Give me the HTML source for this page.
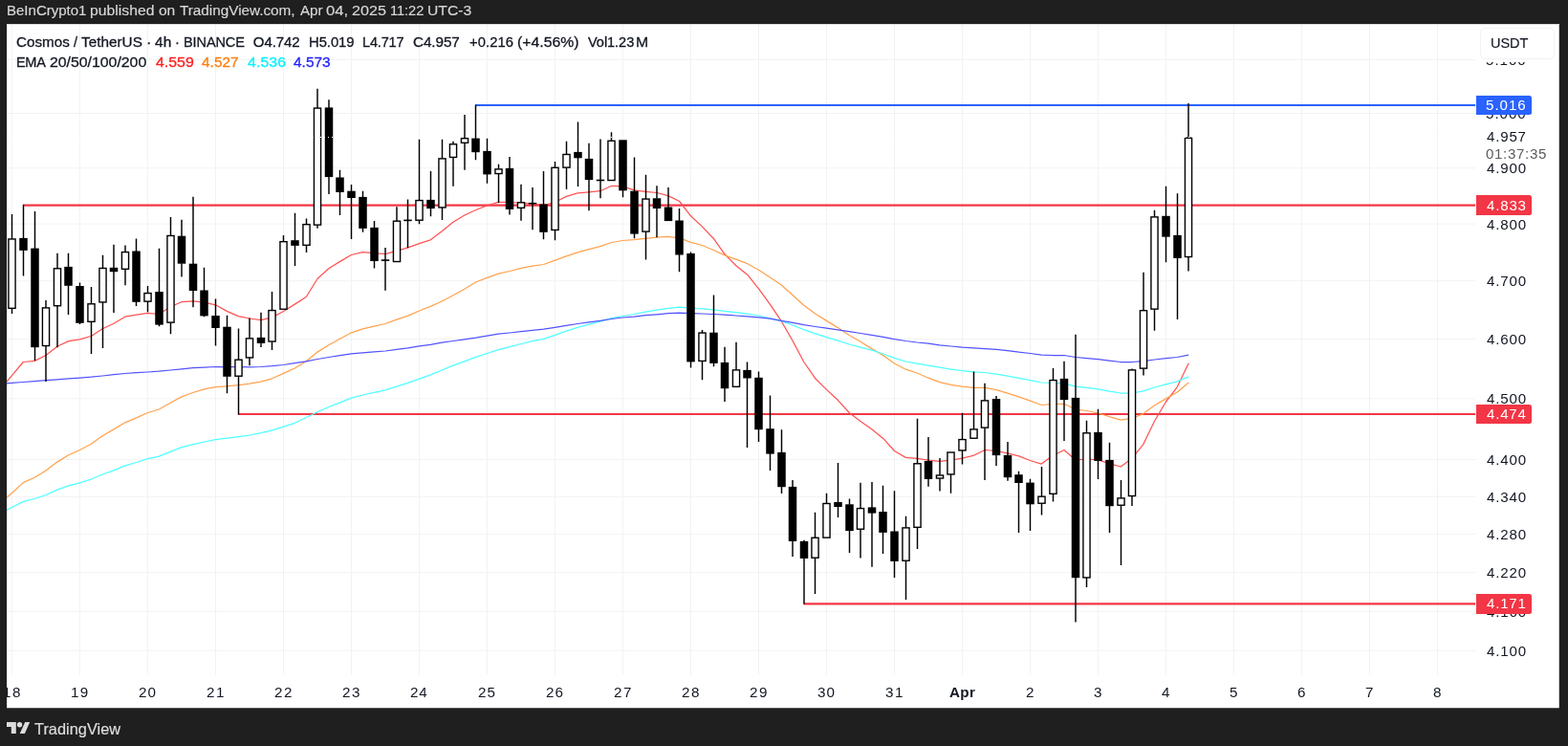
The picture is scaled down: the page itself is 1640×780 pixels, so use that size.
<!DOCTYPE html>
<html lang="en"><head><meta charset="utf-8"><title>Cosmos / TetherUS · 4h · BINANCE — TradingView</title>
<style>
html,body{margin:0;padding:0;background:#1f1f1f;}
body{width:1640px;height:780px;background:#1f1f1f;overflow:hidden;position:relative;font-family:"Liberation Sans",sans-serif;}
.chart{position:absolute;left:7.0px;top:25.0px;width:1624.0px;height:716.0px;overflow:hidden;}
.bg{fill:#fff;}
.chart>*{position:absolute;}
.plot{position:absolute;left:-7.0px;top:-25.0px;}
.grid{fill:none;stroke:#f1f3f3;stroke-width:1;}
.lvl{stroke-width:2.1;}
.ema{fill:none;stroke-width:1.25;stroke-linejoin:round;stroke-linecap:butt;}
.wick{fill:none;stroke:#000;stroke-width:1.45;}
.dn rect{fill:#000;}
.up rect{fill:#fff;stroke:#000;stroke-width:1.4;}
.last{fill:none;stroke:#fff;stroke-width:1;stroke-dasharray:1 3;}
.t{position:absolute;white-space:pre;line-height:1;transform-origin:0 0;}
.hdr{position:absolute;left:0;top:0;width:1640px;height:25.0px;color:#d8d8d8;font-size:15.5px;-webkit-text-stroke-width:0.15px;}
.legend{left:0;top:0;width:700px;height:60px;color:#131722;font-size:15px;-webkit-text-stroke-width:0.3px;}
.legend .l2 span+span{-webkit-text-stroke-width:0.3px;}
.paxis{left:1537.0px;top:0;width:86.75px;height:680.5px;color:#131722;font-size:14.5px;overflow:hidden;}
.taxis{left:0;top:680.5px;width:1624.0px;height:34.75px;color:#131722;font-size:14.5px;overflow:hidden;}
.tag{position:absolute;left:0.25px;width:57.25px;height:20.5px;border-radius:0 2.5px 2.5px 0;background:#f23645;color:#fff;}
.tag.blue{background:#2962ff;}
.cur{position:absolute;left:0;top:107.0px;width:86px;height:38px;background:#fff;}
.cd{color:#5c5c5c;}
.unitbg{position:absolute;left:0;top:1px;width:86px;height:39.4px;background:#fff;}
.unit{position:absolute;left:4px;top:4.2px;width:78px;height:32.7px;border:1px solid #f1f2f4;border-radius:5px;background:#fff;box-sizing:border-box;-webkit-text-stroke-width:0.15px;}
.topline{left:0;top:0;width:100%;height:1px;background:#dcdcdc;}
.foot{position:absolute;left:0;top:741.0px;width:1640px;height:39.0px;color:#dcdcdc;font-size:17px;-webkit-text-stroke-width:0.2px;}
.foot svg{position:absolute;left:0;top:0;}
</style></head><body>
<div class="hdr"><span class="t" style="left:6.76px;top:2.59px;letter-spacing:0.002px;transform:scaleX(0.9686);">BeInCrypto1</span> <span class="t" style="left:94.40px;top:2.59px;letter-spacing:0.008px;transform:scaleX(1.0149);">published</span> <span class="t" style="left:166.11px;top:2.59px;letter-spacing:-0.125px;transform:scaleX(1.0115);">on</span> <span class="t" style="left:188.08px;top:2.59px;letter-spacing:-0.026px;transform:scaleX(0.9888);">TradingView.com,</span> <span class="t" style="left:313.60px;top:2.59px;letter-spacing:-0.052px;transform:scaleX(0.9804);">Apr</span> <span class="t" style="left:341.11px;top:2.59px;letter-spacing:-0.008px;transform:scaleX(1.0703);">04,</span> <span class="t" style="left:367.96px;top:2.59px;letter-spacing:-0.002px;transform:scaleX(1.0432);">2025</span> <span class="t" style="left:407.70px;top:2.59px;letter-spacing:-0.067px;transform:scaleX(0.9463);">11:22</span> <span class="t" style="left:447.47px;top:2.59px;letter-spacing:0.032px;transform:scaleX(1.0098);">UTC-3</span></div>
<div class="chart">
<svg class="plot" width="1640" height="780" viewBox="0 0 1640 780"><rect class="bg" x="7.1" y="25.0" width="1623.65" height="715.25"/>
<path class="grid" d="M12.50 25.0V705.5M83.50 25.0V705.5M154.50 25.0V705.5M225.50 25.0V705.5M296.50 25.0V705.5M367.50 25.0V705.5M438.50 25.0V705.5M509.50 25.0V705.5M580.50 25.0V705.5M651.50 25.0V705.5M722.50 25.0V705.5M793.50 25.0V705.5M864.50 25.0V705.5M935.50 25.0V705.5M1006.50 25.0V705.5M1077.50 25.0V705.5M1148.50 25.0V705.5M1219.50 25.0V705.5M1290.50 25.0V705.5M1361.50 25.0V705.5M1432.50 25.0V705.5M1503.50 25.0V705.5M7.0 62.48H1543.5M7.0 118.54H1543.5M7.0 175.73H1543.5M7.0 234.11H1543.5M7.0 293.71H1543.5M7.0 354.59H1543.5M7.0 416.81H1543.5M7.0 480.43H1543.5M7.0 519.29H1543.5M7.0 558.70H1543.5M7.0 598.67H1543.5M7.0 639.21H1543.5M7.0 680.34H1543.5"/>
<line class="lvl" x1="497.00" y1="110.00" x2="1543.2" y2="110.00" stroke="#2962ff"/>
<line class="lvl" x1="24.00" y1="214.60" x2="1543.2" y2="214.60" stroke="#f23645"/>
<line class="lvl" x1="249.00" y1="433.00" x2="1543.2" y2="433.00" stroke="#f23645"/>
<line class="lvl" x1="840.50" y1="631.40" x2="1543.2" y2="631.40" stroke="#f23645"/>
<path class="ema e20" d="M7.0 399.2 L12.5 392.6 L24.3 378.5 L36.2 377.4 L48.0 371.5 L59.8 362.3 L71.7 356.6 L83.5 354.9 L95.3 351.5 L107.2 343.8 L119.0 338.2 L130.8 331.2 L142.7 329.2 L154.5 327.4 L166.3 328.5 L178.2 320.8 L190.0 315.7 L201.8 314.9 L213.7 316.2 L225.5 318.8 L237.3 325.4 L249.2 330.6 L261.0 333.0 L272.8 334.7 L284.7 331.9 L296.5 325.5 L308.3 318.1 L320.2 310.5 L332.0 291.5 L343.8 280.8 L355.7 273.4 L367.5 266.5 L379.3 263.7 L391.2 264.6 L403.0 265.7 L414.8 262.3 L426.7 258.9 L438.5 254.6 L450.3 250.8 L462.2 241.8 L474.0 232.3 L485.8 225.0 L497.7 219.5 L509.5 214.8 L521.3 211.4 L533.2 211.5 L545.0 212.0 L556.8 213.1 L568.7 214.6 L580.5 211.5 L592.3 205.4 L604.2 201.8 L616.0 200.8 L627.8 199.7 L639.7 194.3 L651.5 194.9 L663.3 198.9 L675.2 200.3 L687.0 201.5 L698.8 204.6 L710.7 210.5 L722.5 225.8 L734.3 236.9 L746.2 249.2 L758.0 265.8 L769.8 277.7 L781.7 287.2 L793.5 301.8 L805.3 318.2 L817.2 335.7 L829.0 356.2 L840.8 378.5 L852.7 395.7 L864.5 407.4 L876.3 418.3 L888.2 431.5 L900.0 440.4 L911.8 448.8 L923.7 458.4 L935.5 471.5 L947.3 478.4 L959.2 479.3 L971.0 481.2 L982.8 482.3 L994.7 481.2 L1006.5 479.2 L1018.3 476.2 L1030.2 470.5 L1042.0 471.5 L1053.8 473.8 L1065.7 476.9 L1077.5 481.5 L1089.3 485.1 L1101.2 476.2 L1113.0 470.5 L1124.8 480.8 L1136.7 480.0 L1148.5 480.8 L1160.3 484.6 L1172.2 488.0 L1184.0 479.2 L1195.8 464.6 L1207.7 440.0 L1219.5 420.0 L1231.3 404.6 L1243.2 379.7" stroke="#ff5252"/>
<path class="ema e50" d="M7.0 520.4 L12.5 515.5 L24.3 504.6 L36.2 499.2 L48.0 492.0 L59.8 483.1 L71.7 475.7 L83.5 470.5 L95.3 464.3 L107.2 455.7 L119.0 448.9 L130.8 441.8 L142.7 436.9 L154.5 431.5 L166.3 428.0 L178.2 421.2 L190.0 414.9 L201.8 410.5 L213.7 406.9 L225.5 404.6 L237.3 403.8 L249.2 402.7 L261.0 401.2 L272.8 399.2 L284.7 395.8 L296.5 390.4 L308.3 385.0 L320.2 377.8 L332.0 368.1 L343.8 360.8 L355.7 354.2 L367.5 347.8 L379.3 343.8 L391.2 341.2 L403.0 338.5 L414.8 334.2 L426.7 330.1 L438.5 325.0 L450.3 320.4 L462.2 315.0 L474.0 308.8 L485.8 302.2 L497.7 295.0 L509.5 290.4 L521.3 286.1 L533.2 283.5 L545.0 280.4 L556.8 278.1 L568.7 276.5 L580.5 272.2 L592.3 267.8 L604.2 263.8 L616.0 260.7 L627.8 257.6 L639.7 253.5 L651.5 251.5 L663.3 250.7 L675.2 249.3 L687.0 248.1 L698.8 247.3 L710.7 248.8 L722.5 253.3 L734.3 256.5 L746.2 261.5 L758.0 266.9 L769.8 271.2 L781.7 275.7 L793.5 282.3 L805.3 290.0 L817.2 298.0 L829.0 308.5 L840.8 319.2 L852.7 328.0 L864.5 335.4 L876.3 342.6 L888.2 350.5 L900.0 357.2 L911.8 364.6 L923.7 371.5 L935.5 380.0 L947.3 386.2 L959.2 390.0 L971.0 395.2 L982.8 399.7 L994.7 402.3 L1006.5 404.2 L1018.3 405.4 L1030.2 405.4 L1042.0 407.7 L1053.8 411.1 L1065.7 414.9 L1077.5 419.2 L1089.3 423.5 L1101.2 422.3 L1113.0 422.3 L1124.8 428.0 L1136.7 429.5 L1148.5 432.0 L1160.3 435.7 L1172.2 439.2 L1184.0 437.4 L1195.8 432.6 L1207.7 423.8 L1219.5 416.9 L1231.3 410.0 L1243.2 400.0" stroke="#ffa24d"/>
<path class="ema e100" d="M7.0 533.3 L12.5 530.5 L24.3 524.4 L36.2 521.5 L48.0 517.5 L59.8 512.1 L71.7 507.9 L83.5 504.8 L95.3 501.0 L107.2 496.0 L119.0 491.8 L130.8 486.9 L142.7 483.5 L154.5 479.7 L166.3 477.2 L178.2 472.3 L190.0 467.7 L201.8 464.6 L213.7 462.0 L225.5 459.7 L237.3 458.2 L249.2 456.7 L261.0 455.0 L272.8 452.7 L284.7 449.8 L296.5 446.2 L308.3 442.3 L320.2 436.5 L332.0 430.8 L343.8 425.5 L355.7 420.8 L367.5 416.2 L379.3 413.0 L391.2 410.4 L403.0 407.8 L414.8 404.2 L426.7 400.4 L438.5 396.2 L450.3 391.9 L462.2 387.0 L474.0 382.2 L485.8 377.8 L497.7 373.4 L509.5 369.5 L521.3 365.7 L533.2 362.6 L545.0 359.5 L556.8 356.6 L568.7 354.3 L580.5 350.3 L592.3 346.2 L604.2 342.3 L616.0 339.2 L627.8 336.2 L639.7 332.6 L651.5 330.5 L663.3 328.5 L675.2 326.2 L687.0 324.2 L698.8 322.3 L710.7 321.2 L722.5 322.2 L734.3 322.8 L746.2 323.8 L758.0 325.4 L769.8 326.6 L781.7 328.2 L793.5 330.0 L805.3 332.8 L817.2 335.7 L829.0 340.0 L840.8 344.6 L852.7 348.8 L864.5 352.6 L876.3 356.2 L888.2 360.0 L900.0 363.1 L911.8 366.2 L923.7 370.0 L935.5 374.3 L947.3 378.0 L959.2 380.2 L971.0 382.2 L982.8 384.2 L994.7 386.2 L1006.5 387.7 L1018.3 388.9 L1030.2 389.5 L1042.0 391.1 L1053.8 393.1 L1065.7 395.4 L1077.5 397.7 L1089.3 400.0 L1101.2 400.3 L1113.0 400.8 L1124.8 404.2 L1136.7 405.4 L1148.5 406.9 L1160.3 409.2 L1172.2 411.0 L1184.0 411.0 L1195.8 408.9 L1207.7 405.0 L1219.5 401.8 L1231.3 398.8 L1243.2 393.9" stroke="#4dffff"/>
<path class="ema e200" d="M7.0 400.8 L12.5 400.4 L24.3 399.5 L36.2 398.6 L48.0 397.7 L59.8 396.8 L71.7 395.9 L83.5 395.1 L95.3 394.2 L107.2 393.0 L119.0 391.7 L130.8 390.5 L142.7 389.7 L154.5 389.0 L166.3 388.2 L178.2 387.0 L190.0 385.8 L201.8 384.6 L213.7 384.1 L225.5 383.5 L237.3 383.6 L249.2 383.7 L261.0 383.8 L272.8 383.5 L284.7 382.7 L296.5 381.5 L308.3 379.6 L320.2 377.8 L332.0 375.5 L343.8 373.5 L355.7 371.6 L367.5 369.9 L379.3 368.8 L391.2 367.8 L403.0 367.0 L414.8 365.3 L426.7 363.8 L438.5 361.9 L450.3 360.4 L462.2 358.1 L474.0 356.5 L485.8 354.8 L497.7 353.1 L509.5 351.1 L521.3 349.2 L533.2 348.0 L545.0 346.6 L556.8 345.4 L568.7 344.2 L580.5 342.3 L592.3 340.3 L604.2 338.5 L616.0 336.9 L627.8 335.4 L639.7 333.5 L651.5 332.0 L663.3 331.1 L675.2 329.7 L687.0 328.8 L698.8 327.7 L710.7 327.2 L722.5 327.7 L734.3 328.0 L746.2 328.5 L758.0 329.2 L769.8 330.0 L781.7 330.8 L793.5 331.8 L805.3 333.1 L817.2 335.4 L829.0 337.4 L840.8 339.7 L852.7 341.5 L864.5 343.1 L876.3 344.9 L888.2 346.6 L900.0 348.5 L911.8 350.3 L923.7 352.3 L935.5 354.6 L947.3 356.5 L959.2 358.0 L971.0 359.2 L982.8 360.8 L994.7 362.0 L1006.5 363.1 L1018.3 363.8 L1030.2 364.6 L1042.0 365.4 L1053.8 366.6 L1065.7 368.2 L1077.5 369.5 L1089.3 371.1 L1101.2 371.5 L1113.0 371.5 L1124.8 373.5 L1136.7 374.6 L1148.5 375.7 L1160.3 377.2 L1172.2 378.5 L1184.0 378.5 L1195.8 377.7 L1207.7 376.0 L1219.5 374.6 L1231.3 373.5 L1243.2 371.2" stroke="#5252ff"/>
<path class="wick" d="M12.50 223.9V249.8M12.50 322.5V328.1M24.50 213.9V249.4M24.50 261.4V288.5M36.50 220.9V260.1M36.50 362.7V376.9M48.00 313.9V321.7M48.00 361.7V398.9M60.00 264.7V280.6M60.00 319.9V363.2M71.50 264.7V279.4M71.50 298.3V328.9M83.50 295.5V299.5M83.50 337.3V338.9M95.50 300.1V317.6M95.50 336.5V370.1M107.50 266.7V280.3M107.50 316.1V363.9M119.00 255.8V280.3M119.00 283.7V327.0M131.00 256.5V263.4M131.00 281.5V298.2M142.50 249.6V263.0M142.50 315.3V320.1M154.50 298.9V306.4M154.50 315.3V326.2M166.50 259.7V305.5M166.50 339.1V341.2M178.50 227.0V246.3M178.50 337.3V349.2M190.00 229.7V247.2M190.00 275.2V289.6M202.00 205.7V276.2M202.00 303.5V321.2M213.50 279.7V304.0M213.50 329.9V331.2M225.50 312.5V330.5M225.50 342.5V361.5M237.50 329.7V342.2M237.50 393.3V411.2M249.50 343.5V376.0M249.50 393.4V433.6M261.00 332.4V353.7M261.00 374.1V382.2M273.00 326.7V353.4M273.00 358.4V363.1M284.50 305.1V324.4M284.50 357.2V365.9M296.50 245.9V252.5M308.50 222.8V251.7M308.50 256.4V278.1M320.50 228.5V234.5M320.50 256.5V263.9M332.00 92.7V112.9M332.00 235.3V238.8M344.00 104.2V112.9M344.00 184.6V202.9M355.50 177.7V186.0M355.50 200.5V224.9M367.50 192.9V200.2M367.50 206.5V250.0M379.50 199.7V206.4M379.50 238.4V242.7M391.50 230.9V238.4M391.50 272.5V280.4M403.00 258.9V272.1M403.00 272.1V303.8M415.00 216.2V231.0M426.50 208.6V230.4M426.50 230.4V259.2M438.50 145.7V209.4M438.50 230.4V234.2M450.50 178.9V209.4M450.50 217.6V226.2M462.50 145.7V165.7M462.50 217.1V230.0M474.00 147.7V150.6M474.00 164.6V194.8M486.00 119.9V144.5M486.00 149.5V177.8M497.50 109.7V145.1M497.50 158.7V167.2M509.50 144.8V158.4M509.50 181.9V191.8M521.50 171.7V176.7M521.50 181.7V211.9M533.00 163.9V176.4M533.00 218.4V224.5M545.00 192.8V211.6M545.00 217.5V230.8M557.00 195.9V212.5M557.00 213.0V240.2M568.50 178.9V214.0M568.50 242.3V250.2M580.50 168.9V175.1M580.50 240.6V251.2M592.50 147.7V161.3M592.50 175.3V198.0M604.50 127.4V159.4M604.50 164.8V194.9M616.00 149.7V166.4M616.00 187.6V220.2M628.00 145.5V188.5M628.00 188.5V207.2M639.50 138.2V147.1M651.50 198.8V206.2M663.50 164.6V200.2M663.50 244.1V249.2M675.50 182.8V207.9M675.50 242.3V271.6M687.00 194.3V207.8M687.00 217.5V248.2M699.00 195.9V217.0M710.50 218.0V231.0M710.50 266.0V284.2M722.50 263.6V265.5M722.50 377.9V384.6M734.50 345.1V347.9M734.50 377.6V397.2M746.50 308.6V348.2M746.50 379.4V383.2M758.00 362.8V379.4M758.00 405.7V420.0M770.00 357.7V386.7M781.50 378.6V387.4M781.50 395.0V468.0M793.50 388.5V395.3M793.50 448.7V462.0M805.50 413.6V448.7M805.50 474.1V492.0M817.50 449.3V473.4M817.50 508.7V515.9M829.00 501.9V509.4M829.00 565.4V582.0M841.00 564.7V566.4M841.00 583.4V631.6M852.50 535.8V562.1M852.50 583.4V621.1M864.50 515.8V526.3M876.50 483.9V525.5M876.50 529.5V541.1M888.50 521.6V527.8M888.50 554.6V578.1M900.00 504.7V531.4M900.00 553.4V583.4M912.00 503.9V530.9M912.00 536.1V592.8M923.50 507.8V535.5M923.50 556.4V579.1M935.50 513.2V556.0M935.50 586.4V604.1M947.50 539.8V551.7M947.50 586.4V626.9M959.50 437.8V484.6M959.50 551.5V573.9M971.00 457.1V482.5M971.00 500.5V508.8M983.00 478.9V496.8M983.00 500.2V513.5M994.50 496.1V515.8M1006.50 431.7V459.4M1006.50 471.1V485.5M1018.50 388.6V448.7M1030.00 400.8V418.7M1030.00 447.3V501.9M1042.00 413.9V417.6M1042.00 475.6V487.0M1054.00 462.0V476.4M1054.00 498.7V502.7M1065.50 492.8V496.7M1065.50 504.5V556.9M1077.50 500.8V505.1M1077.50 526.8V555.0M1089.50 487.9V519.0M1089.50 526.4V538.6M1101.50 384.9V397.4M1101.50 516.5V524.6M1113.00 377.8V396.4M1113.00 417.6V460.9M1125.00 349.7V416.4M1125.00 603.7V650.5M1136.50 439.7V452.6M1136.50 604.1V614.1M1148.50 427.7V452.4M1148.50 481.4V500.9M1160.50 462.8V481.4M1160.50 528.7V557.0M1172.50 502.0V520.7M1172.50 528.4V591.1M1184.00 385.4V386.7M1184.00 518.7V529.1M1196.00 284.7V324.5M1196.00 385.3V392.4M1207.50 219.8V226.7M1207.50 323.3V345.8M1219.50 194.7V226.3M1219.50 247.2V274.2M1231.50 202.2V246.4M1231.50 269.5V333.9M1243.00 108.1V144.1M1243.00 268.7V283.6"/>
<g class="dn"><rect x="20.25" y="248.9" width="8.5" height="13.0"/><rect x="32.25" y="259.6" width="8.5" height="103.6"/><rect x="67.25" y="278.9" width="8.5" height="19.9"/><rect x="79.25" y="299.0" width="8.5" height="38.8"/><rect x="114.75" y="279.8" width="8.5" height="4.4"/><rect x="138.25" y="262.5" width="8.5" height="53.3"/><rect x="162.25" y="305.0" width="8.5" height="34.6"/><rect x="185.75" y="246.7" width="8.5" height="29.0"/><rect x="197.75" y="275.7" width="8.5" height="28.3"/><rect x="209.25" y="303.5" width="8.5" height="26.9"/><rect x="221.25" y="330.0" width="8.5" height="13.0"/><rect x="233.25" y="341.7" width="8.5" height="52.1"/><rect x="268.75" y="352.9" width="8.5" height="6.0"/><rect x="304.25" y="251.2" width="8.5" height="5.7"/><rect x="339.75" y="112.4" width="8.5" height="72.7"/><rect x="351.25" y="185.5" width="8.5" height="15.5"/><rect x="363.25" y="199.7" width="8.5" height="7.3"/><rect x="375.25" y="205.9" width="8.5" height="33.0"/><rect x="387.25" y="237.9" width="8.5" height="35.1"/><rect x="398.75" y="271.3" width="8.5" height="1.6"/><rect x="422.25" y="229.6" width="8.5" height="1.6"/><rect x="446.25" y="208.9" width="8.5" height="9.2"/><rect x="493.25" y="144.6" width="8.5" height="14.6"/><rect x="505.25" y="157.9" width="8.5" height="24.5"/><rect x="528.75" y="175.9" width="8.5" height="43.0"/><rect x="552.75" y="211.9" width="8.5" height="1.6"/><rect x="564.25" y="213.5" width="8.5" height="29.3"/><rect x="600.25" y="158.9" width="8.5" height="6.4"/><rect x="611.75" y="165.9" width="8.5" height="22.2"/><rect x="623.75" y="187.7" width="8.5" height="1.6"/><rect x="647.25" y="146.3" width="8.5" height="53.0"/><rect x="659.25" y="199.7" width="8.5" height="44.9"/><rect x="682.75" y="207.3" width="8.5" height="10.7"/><rect x="694.75" y="216.5" width="8.5" height="14.6"/><rect x="706.25" y="230.5" width="8.5" height="36.0"/><rect x="718.25" y="265.0" width="8.5" height="113.4"/><rect x="742.25" y="347.7" width="8.5" height="32.2"/><rect x="753.75" y="378.9" width="8.5" height="27.3"/><rect x="777.25" y="386.9" width="8.5" height="8.6"/><rect x="789.25" y="394.8" width="8.5" height="54.4"/><rect x="801.25" y="448.2" width="8.5" height="26.4"/><rect x="813.25" y="472.9" width="8.5" height="36.3"/><rect x="824.75" y="508.9" width="8.5" height="57.0"/><rect x="836.75" y="565.9" width="8.5" height="18.0"/><rect x="872.25" y="525.0" width="8.5" height="5.0"/><rect x="884.25" y="527.3" width="8.5" height="27.8"/><rect x="907.75" y="530.4" width="8.5" height="6.2"/><rect x="919.25" y="535.0" width="8.5" height="21.9"/><rect x="931.25" y="555.5" width="8.5" height="31.4"/><rect x="966.75" y="482.0" width="8.5" height="19.0"/><rect x="1037.75" y="417.1" width="8.5" height="59.0"/><rect x="1049.75" y="475.9" width="8.5" height="23.3"/><rect x="1061.25" y="496.2" width="8.5" height="8.8"/><rect x="1073.25" y="504.6" width="8.5" height="22.7"/><rect x="1108.75" y="395.9" width="8.5" height="22.2"/><rect x="1120.75" y="415.9" width="8.5" height="188.3"/><rect x="1144.25" y="451.9" width="8.5" height="30.0"/><rect x="1156.25" y="480.9" width="8.5" height="48.3"/><rect x="1215.25" y="225.8" width="8.5" height="21.9"/><rect x="1227.25" y="245.9" width="8.5" height="24.1"/></g>
<g class="up"><rect x="8.93" y="249.97" width="7.15" height="72.35"/><rect x="44.42" y="321.88" width="7.15" height="39.65"/><rect x="56.42" y="280.77" width="7.15" height="38.95"/><rect x="91.92" y="317.77" width="7.15" height="18.55"/><rect x="103.92" y="280.48" width="7.15" height="35.45"/><rect x="127.42" y="263.57" width="7.15" height="17.75"/><rect x="150.93" y="306.57" width="7.15" height="8.55"/><rect x="174.93" y="246.47" width="7.15" height="90.65"/><rect x="245.93" y="376.18" width="7.15" height="17.05"/><rect x="257.43" y="353.88" width="7.15" height="20.05"/><rect x="280.93" y="324.57" width="7.15" height="32.45"/><rect x="292.93" y="252.68" width="7.15" height="70.55"/><rect x="316.93" y="234.68" width="7.15" height="21.65"/><rect x="328.43" y="113.08" width="7.15" height="122.05"/><rect x="411.43" y="231.18" width="7.15" height="42.35"/><rect x="434.93" y="209.57" width="7.15" height="20.65"/><rect x="458.93" y="165.88" width="7.15" height="51.05"/><rect x="470.43" y="150.78" width="7.15" height="13.65"/><rect x="482.43" y="144.68" width="7.15" height="4.65"/><rect x="517.92" y="176.88" width="7.15" height="4.65"/><rect x="541.42" y="211.78" width="7.15" height="5.55"/><rect x="576.92" y="175.28" width="7.15" height="65.15"/><rect x="588.92" y="161.47" width="7.15" height="13.65"/><rect x="635.92" y="147.28" width="7.15" height="41.25"/><rect x="671.92" y="208.07" width="7.15" height="34.05"/><rect x="730.92" y="348.07" width="7.15" height="29.35"/><rect x="766.42" y="386.88" width="7.15" height="17.45"/><rect x="848.92" y="562.27" width="7.15" height="20.95"/><rect x="860.92" y="526.48" width="7.15" height="35.65"/><rect x="896.42" y="531.58" width="7.15" height="21.65"/><rect x="943.92" y="551.88" width="7.15" height="34.35"/><rect x="955.92" y="484.77" width="7.15" height="66.55"/><rect x="979.42" y="496.98" width="7.15" height="3.05"/><rect x="990.92" y="472.98" width="7.15" height="22.95"/><rect x="1002.92" y="459.57" width="7.15" height="11.35"/><rect x="1014.92" y="448.88" width="7.15" height="9.35"/><rect x="1026.42" y="418.88" width="7.15" height="28.25"/><rect x="1085.92" y="519.17" width="7.15" height="7.05"/><rect x="1097.92" y="397.57" width="7.15" height="118.75"/><rect x="1132.92" y="452.77" width="7.15" height="151.15"/><rect x="1168.92" y="520.88" width="7.15" height="7.35"/><rect x="1180.42" y="386.88" width="7.15" height="131.65"/><rect x="1192.42" y="324.68" width="7.15" height="60.45"/><rect x="1203.92" y="226.88" width="7.15" height="96.25"/><rect x="1239.42" y="144.28" width="7.15" height="124.25"/></g>
<path class="last" d="M7 143.5H1543"/></svg>
<div class="legend"><div class="l1"><span class="t" style="left:10.12px;top:10.93px;letter-spacing:0.003px;transform:scaleX(1.0148);">Cosmos</span> <span class="t" style="left:69.60px;top:10.93px;transform:scaleX(0.9700);">/</span> <span class="t" style="left:78.20px;top:10.93px;letter-spacing:0.014px;transform:scaleX(1.0194);">TetherUS</span> <span class="t" style="left:145.60px;top:10.93px;transform:scaleX(1.0903);">·</span> <span class="t" style="left:155.16px;top:10.93px;letter-spacing:0.084px;transform:scaleX(1.0278);">4h</span> <span class="t" style="left:176.19px;top:10.93px;transform:scaleX(0.9700);">·</span> <span class="t" style="left:185.48px;top:10.93px;letter-spacing:-0.124px;transform:scaleX(0.9700);">BINANCE</span> <span class="t" style="left:257.83px;top:10.93px;letter-spacing:-0.072px;">O4.742</span> <span class="t" style="left:315.84px;top:10.93px;letter-spacing:-0.049px;transform:scaleX(0.9880);">H5.019</span> <span class="t" style="left:372.10px;top:10.93px;letter-spacing:-0.186px;transform:scaleX(0.9700);">L4.717</span> <span class="t" style="left:424.55px;top:10.93px;letter-spacing:-0.087px;transform:scaleX(1.0191);">C4.957</span> <span class="t" style="left:483.61px;top:10.93px;letter-spacing:0.069px;transform:scaleX(0.9844);">+0.216</span> <span class="t" style="left:533.80px;top:10.93px;letter-spacing:0.004px;transform:scaleX(1.0513);">(+4.56%)</span> <span class="t" style="left:607.88px;top:10.93px;letter-spacing:-0.054px;transform:scaleX(0.9700);">Vol1.23</span> <span class="t" style="left:658.40px;top:10.93px;transform:scaleX(1.0520);">M</span></div><div class="l2"><span class="t" style="left:10.10px;top:31.54px;letter-spacing:-0.346px;transform:scaleX(0.9700);">EMA</span> <span class="t" style="left:44.84px;top:31.54px;letter-spacing:-0.022px;transform:scaleX(1.0584);">20/50/100/200</span> <span class="t" style="left:156.34px;top:31.54px;letter-spacing:0.003px;color:#ff1f1f;transform:scaleX(1.0587);">4.559</span> <span class="t" style="left:203.98px;top:31.54px;letter-spacing:0.061px;color:#ff7f0e;transform:scaleX(1.0217);">4.527</span> <span class="t" style="left:251.56px;top:31.54px;letter-spacing:0.076px;color:#0cf0ff;transform:scaleX(1.0571);">4.536</span> <span class="t" style="left:299.96px;top:31.54px;letter-spacing:0.022px;color:#1f1fff;transform:scaleX(1.0272);">4.573</span></div></div>
<div class="paxis"><span class="t" style="left:10.00px;top:31.16px;letter-spacing:0.962px;transform:scaleX(1.0400);">5.100</span> <span class="t" style="left:10.00px;top:87.22px;letter-spacing:0.962px;transform:scaleX(1.0400);">5.000</span> <span class="t" style="left:10.57px;top:144.41px;letter-spacing:0.804px;transform:scaleX(1.0400);">4.900</span> <span class="t" style="left:10.57px;top:202.79px;letter-spacing:0.804px;transform:scaleX(1.0400);">4.800</span> <span class="t" style="left:10.57px;top:262.39px;letter-spacing:0.804px;transform:scaleX(1.0400);">4.700</span> <span class="t" style="left:10.57px;top:323.27px;letter-spacing:0.804px;transform:scaleX(1.0400);">4.600</span> <span class="t" style="left:10.57px;top:385.49px;letter-spacing:0.804px;transform:scaleX(1.0400);">4.500</span> <span class="t" style="left:10.57px;top:449.11px;letter-spacing:0.804px;transform:scaleX(1.0400);">4.400</span> <span class="t" style="left:10.57px;top:487.98px;letter-spacing:0.804px;transform:scaleX(1.0400);">4.340</span> <span class="t" style="left:10.57px;top:527.38px;letter-spacing:0.804px;transform:scaleX(1.0400);">4.280</span> <span class="t" style="left:10.57px;top:567.35px;letter-spacing:0.804px;transform:scaleX(1.0400);">4.220</span> <span class="t" style="left:10.57px;top:607.89px;letter-spacing:0.804px;transform:scaleX(1.0400);">4.160</span> <span class="t" style="left:10.57px;top:649.02px;letter-spacing:0.804px;transform:scaleX(1.0400);">4.100</span><div class="cur"><span class="t" style="left:10.57px;top:4.38px;letter-spacing:0.782px;transform:scaleX(1.0400);">4.957</span> <span class="t cd" style="left:10.09px;top:21.58px;letter-spacing:0.635px;transform:scaleX(1.0400);">01:37:35</span></div><div class="tag blue" style="top:74.75px"><span class="t" style="left:9.75px;top:3.33px;letter-spacing:0.962px;transform:scaleX(1.0400);">5.016</span></div><div class="tag" style="top:179.35px"><span class="t" style="left:10.32px;top:3.33px;letter-spacing:0.782px;transform:scaleX(1.0400);">4.833</span></div><div class="tag" style="top:397.75px"><span class="t" style="left:10.32px;top:3.33px;letter-spacing:0.766px;transform:scaleX(1.0400);">4.474</span></div><div class="tag" style="top:596.15px"><span class="t" style="left:10.32px;top:3.33px;letter-spacing:0.750px;transform:scaleX(1.0400);">4.171</span></div><div class="unitbg"></div><div class="unit"><span class="t" style="left:10.28px;top:8.18px;letter-spacing:-0.066px;transform:scaleX(1.0033);">USDT</span></div></div>
<div class="taxis"><span class="t" style="left:-3.67px;top:11.98px;letter-spacing:1.569px;transform:scaleX(1.0500);">18</span> <span class="t" style="left:67.33px;top:11.98px;letter-spacing:1.208px;transform:scaleX(1.0500);">19</span> <span class="t" style="left:137.80px;top:11.98px;letter-spacing:0.961px;transform:scaleX(1.0500);">20</span> <span class="t" style="left:208.80px;top:11.98px;letter-spacing:1.376px;transform:scaleX(1.0500);">21</span> <span class="t" style="left:279.80px;top:11.98px;letter-spacing:1.475px;transform:scaleX(1.0500);">22</span> <span class="t" style="left:350.80px;top:11.98px;letter-spacing:1.463px;transform:scaleX(1.0500);">23</span> <span class="t" style="left:421.80px;top:11.98px;letter-spacing:0.732px;transform:scaleX(1.0500);">24</span> <span class="t" style="left:492.80px;top:11.98px;letter-spacing:0.948px;transform:scaleX(1.0500);">25</span> <span class="t" style="left:563.80px;top:11.98px;letter-spacing:1.069px;transform:scaleX(1.0500);">26</span> <span class="t" style="left:634.80px;top:11.98px;letter-spacing:1.475px;transform:scaleX(1.0500);">27</span> <span class="t" style="left:705.80px;top:11.98px;letter-spacing:1.376px;transform:scaleX(1.0500);">28</span> <span class="t" style="left:776.80px;top:11.98px;letter-spacing:1.475px;transform:scaleX(1.0500);">29</span> <span class="t" style="left:847.80px;top:11.98px;letter-spacing:0.961px;transform:scaleX(1.0500);">30</span> <span class="t" style="left:918.80px;top:11.98px;letter-spacing:1.376px;transform:scaleX(1.0500);">31</span> <span class="t" style="left:986.07px;top:11.98px;letter-spacing:0.318px;font-weight:700;transform:scaleX(1.0500);">Apr</span> <span class="t" style="left:1065.60px;top:11.98px;transform:scaleX(1.0500);">2</span> <span class="t" style="left:1136.60px;top:11.98px;transform:scaleX(1.0500);">3</span> <span class="t" style="left:1208.15px;top:11.98px;transform:scaleX(1.0500);">4</span> <span class="t" style="left:1278.60px;top:11.98px;transform:scaleX(1.0500);">5</span> <span class="t" style="left:1349.60px;top:11.98px;transform:scaleX(1.0500);">6</span> <span class="t" style="left:1420.60px;top:11.98px;transform:scaleX(1.0500);">7</span> <span class="t" style="left:1491.60px;top:11.98px;transform:scaleX(1.0500);">8</span></div>
<div class="topline"></div>
</div>
<div class="foot"><svg width="40" height="40" viewBox="0 741.0 40 40"><g fill="#dcdcdc"><path d="M7 755H16.8V767H11.8V760H7Z"/><circle cx="20.55" cy="757.7" r="2.7"/><path d="M26.2 755H31.2L25.9 767H20.7Z"/></g></svg><span class="t" style="left:35.50px;top:12.85px;letter-spacing:0.010px;transform:scaleX(0.9617);">TradingView</span></div>
</body></html>
